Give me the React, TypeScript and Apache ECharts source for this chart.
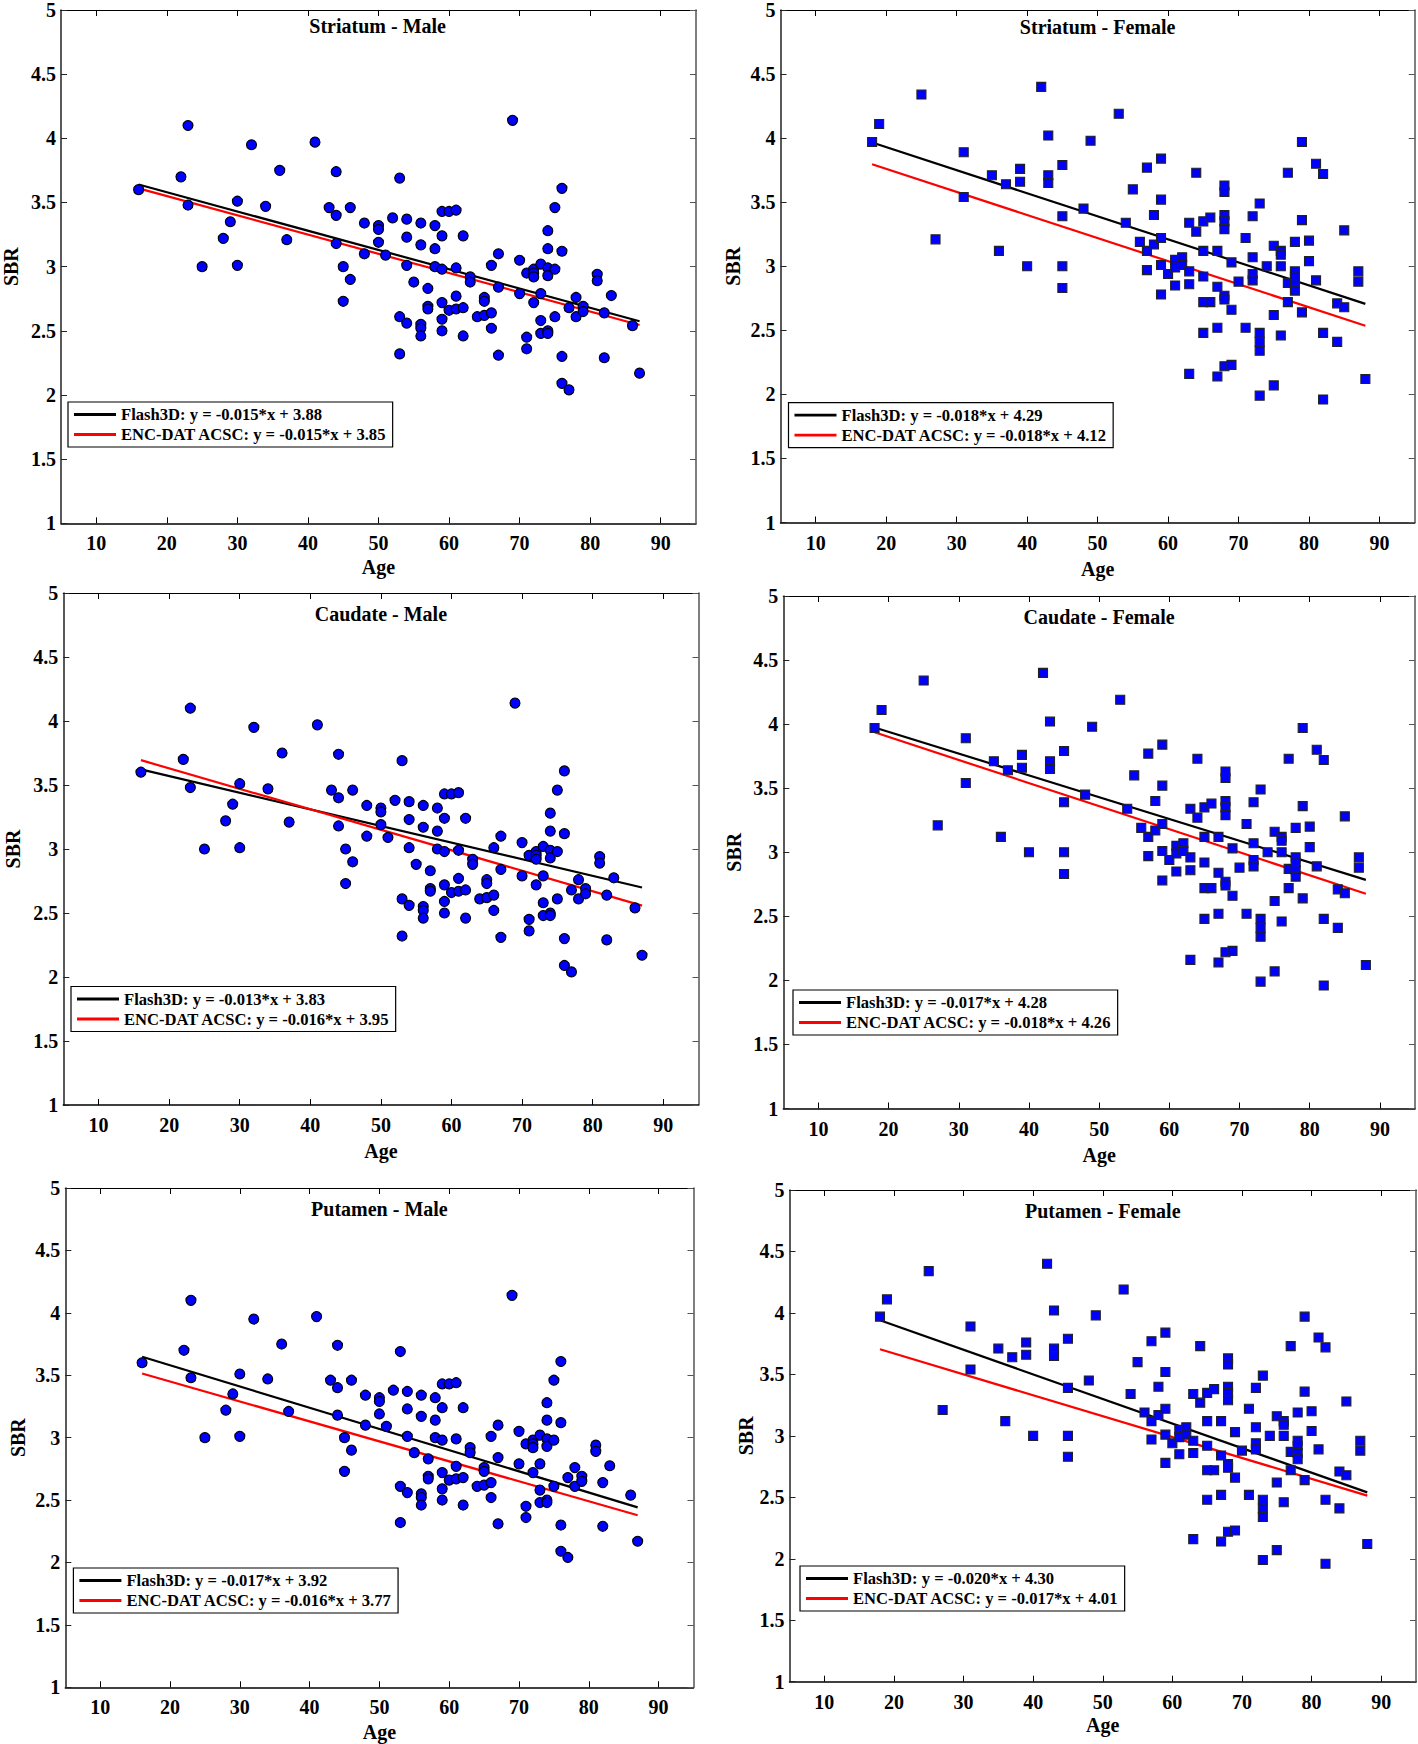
import React, { useEffect, useRef } from "react";
import * as echarts from "echarts";

const regions = ["Striatum", "Caudate", "Putamen"];
const sexes = ["Male", "Female"];
const xTicks = [10, 20, 30, 40, 50, 60, 70, 80, 90];
const yTicks = [1, 1.5, 2, 2.5, 3, 3.5, 4, 4.5, 5];

// [age, SBR] — same subject set is shown in every male panel
const maleData: number[][] = [
  [16, 3.6], [23, 4.1], [22, 3.7], [23, 3.48], [25, 3.0], [32, 3.95], [30, 3.51], [29, 3.35], [28, 3.22], [30, 3.01],
  [36, 3.75], [34, 3.47], [37, 3.21], [41, 3.97], [44, 3.74], [43, 3.46], [44, 3.4], [46, 3.46], [44, 3.18], [45, 3.0],
  [46, 2.9], [45, 2.73], [48, 3.34], [50, 3.32], [50, 3.29], [50, 3.19], [48, 3.1], [51, 3.09], [52, 3.38],
  [53, 3.69], [54, 3.37], [54, 3.23], [53, 2.61], [54, 2.56], [53, 2.32], [54, 3.01], [55, 2.88], [56, 3.34], [56, 3.17],
  [56, 2.55], [56, 2.52], [56, 2.46], [57, 2.83], [57, 2.69], [57, 2.67], [58, 3.32], [58, 3.14], [58, 3.0], [59, 3.43],
  [59, 3.24], [59, 2.98], [59, 2.72], [59, 2.59], [59, 2.5], [60, 3.43], [60, 2.66], [61, 3.44], [61, 2.99], [61, 2.77],
  [61, 2.67], [62, 3.24], [62, 2.68], [62, 2.46], [63, 2.92], [63, 2.88], [64, 2.61], [65, 2.76], [65, 2.73], [65, 2.62],
  [66, 3.01], [66, 2.64], [66, 2.52], [67, 3.1], [67, 2.84], [67, 2.31], [69, 4.14], [70, 3.05], [70, 2.79], [71, 2.95],
  [71, 2.45], [71, 2.36], [72, 2.98], [72, 2.95], [72, 2.92], [72, 2.72], [73, 3.02], [73, 2.79], [73, 2.58], [73, 2.48],
  [74, 3.28], [74, 3.14], [74, 2.99], [74, 2.93], [74, 2.5], [74, 2.48], [75, 3.46], [75, 2.98], [75, 2.61], [76, 3.61],
  [76, 3.12], [76, 2.3], [76, 2.09], [77, 2.04], [77, 2.68], [78, 2.76], [78, 2.61], [79, 2.69], [79, 2.65], [81, 2.94],
  [81, 2.89], [82, 2.64], [82, 2.29], [83, 2.775], [86, 2.54], [87, 2.17],
];

// [age, SBR] — same subject set is shown in every female panel
const femaleData: number[][] = [
  [18, 3.97], [19, 4.11], [25, 4.34], [31, 3.89], [31, 3.54], [27, 3.21], [35, 3.71], [37, 3.64], [36, 3.12], [39, 3.76],
  [39, 3.66], [40, 3.0], [42, 4.4], [43, 4.02], [43, 3.71], [43, 3.65], [45, 3.79], [45, 3.39], [45, 3.0], [45, 2.83],
  [48, 3.45], [49, 3.98], [53, 4.19], [54, 3.34], [55, 3.6], [56, 3.19], [57, 3.77], [57, 3.12], [57, 2.97], [58, 3.4],
  [58, 3.17], [59, 3.84], [59, 3.52], [59, 3.22], [59, 3.01], [59, 2.78], [60, 2.94], [61, 3.05], [61, 2.99], [61, 2.85],
  [62, 3.07], [62, 3.01], [63, 3.34], [63, 2.96], [63, 2.86], [63, 2.16], [64, 3.73], [64, 3.27], [65, 3.35], [65, 3.12],
  [65, 2.92], [65, 2.72], [65, 2.48], [66, 3.38], [66, 2.72], [67, 3.12], [67, 2.84], [67, 2.52], [67, 2.14], [68, 3.63],
  [68, 3.58], [68, 3.4], [68, 3.35], [68, 3.29], [68, 2.77], [68, 2.74], [68, 2.22], [69, 3.03], [69, 2.66], [69, 2.23],
  [70, 2.88], [71, 3.22], [71, 2.52], [72, 3.39], [72, 3.07], [72, 2.94], [72, 2.89], [73, 3.49], [73, 2.48], [73, 2.41],
  [73, 2.34], [73, 1.99], [74, 3.0], [75, 3.16], [75, 2.62], [75, 2.07], [76, 3.12], [76, 3.09], [76, 3.0], [76, 2.46],
  [77, 3.73], [77, 2.87], [77, 2.72], [78, 3.19], [78, 2.96], [78, 2.92], [78, 2.86], [78, 2.81], [79, 3.97], [79, 3.36],
  [79, 2.64], [80, 3.2], [80, 3.04], [81, 3.8], [81, 2.89], [82, 3.72], [82, 2.48], [82, 1.96], [84, 2.71], [84, 2.41],
  [85, 3.28], [85, 2.68], [87, 2.96], [87, 2.88], [88, 2.12],
];

// regression coefficients per region (Striatum, Caudate, Putamen)
const flashSlopeMale = [-0.015, -0.013, -0.017];
const flashInterceptMale = [3.88, 3.83, 3.92];
const encSlopeMale = [-0.015, -0.016, -0.016];
const encInterceptMale = [3.85, 3.95, 3.77];
const flashSlopeFemale = [-0.018, -0.017, -0.02];
const flashInterceptFemale = [4.29, 4.28, 4.3];
const encSlopeFemale = [-0.018, -0.018, -0.017];
const encInterceptFemale = [4.12, 4.26, 4.01];

// layout (px): left, top, width, height for each panel (row-major)
const panelBoxes = [
  [59.3, 5.3, 636.7, 518],
  [780.5, 6, 634.2, 516.5],
  [63.3, 593, 635.2, 512],
  [783.3, 596, 631.7, 512.5],
  [65.3, 1188, 628.2, 499.3],
  [789.5, 1190, 626.5, 491.7],
];
const legendPos = [
  [68, 402],
  [788.5, 402.6],
  [71, 986.5],
  [793, 990],
  [73.4, 1568],
  [800, 1566],
];
const sbrGap = [40, 38, 40, 39, 37, 34];
const ageGap = [34, 36, 36, 36, 34.5, 33.5];

const FONT = "'Liberation Serif', 'Times New Roman', serif";

function buildOption() {
  const grid: any[] = [];
  const xAxis: any[] = [];
  const yAxis: any[] = [];
  const series: any[] = [];
  const legend: any[] = [];
  const graphic: any[] = [];

  const labelStyle = { fontFamily: FONT, fontWeight: "bold", fontSize: 20, color: "#000" };

  regions.forEach((region, r) => {
    sexes.forEach((sex, s) => {
      const i = r * 2 + s;
      const [L, T, W, H] = panelBoxes[i];
      const male = s === 0;
      const data = male ? maleData : femaleData;
      const fs = male ? flashSlopeMale[r] : flashSlopeFemale[r];
      const fb = male ? flashInterceptMale[r] : flashInterceptFemale[r];
      const es = male ? encSlopeMale[r] : encSlopeFemale[r];
      const eb = male ? encInterceptMale[r] : encInterceptFemale[r];
      const ages = data.map((d) => d[0]);
      const a0 = Math.min(...ages);
      const a1 = Math.max(...ages);

      grid.push({ left: L, top: T, width: W, height: H });

      xAxis.push({
        type: "value", gridIndex: i, min: 5, max: 95, position: "bottom",
        name: "Age", nameLocation: "middle", nameGap: ageGap[i], nameTextStyle: labelStyle,
        axisLine: { show: true, onZero: false, lineStyle: { color: "#000", width: 1.5 } },
        axisTick: { show: true, inside: true, length: 6, customValues: xTicks, lineStyle: { color: "#000", width: 1 } },
        axisLabel: { customValues: xTicks, margin: 10, ...labelStyle },
        splitLine: { show: false },
      });
      xAxis.push({
        type: "value", gridIndex: i, min: 5, max: 95, position: "top",
        axisLine: { show: true, onZero: false, lineStyle: { color: "#000", width: 1.2 } },
        axisTick: { show: true, inside: true, length: 6, customValues: xTicks, lineStyle: { color: "#000", width: 1 } },
        axisLabel: { show: false },
        splitLine: { show: false },
      });
      yAxis.push({
        type: "value", gridIndex: i, min: 1, max: 5, interval: 0.5, position: "left",
        name: "SBR", nameLocation: "middle", nameGap: sbrGap[i], nameTextStyle: labelStyle,
        axisLine: { show: true, onZero: false, lineStyle: { color: "#222", width: 1.5 } },
        axisTick: { show: true, inside: true, length: 6, customValues: yTicks, lineStyle: { color: "#222", width: 1 } },
        axisLabel: { customValues: yTicks, margin: 5, ...labelStyle },
        splitLine: { show: false },
      });
      yAxis.push({
        type: "value", gridIndex: i, min: 1, max: 5, interval: 0.5, position: "right",
        axisLine: { show: true, onZero: false, lineStyle: { color: "#555", width: 1.5 } },
        axisTick: { show: true, inside: true, length: 6, customValues: yTicks, lineStyle: { color: "#555", width: 1 } },
        axisLabel: { show: false },
        splitLine: { show: false },
      });

      const flashName = `Flash3D: y = ${fs.toFixed(3)}*x + ${fb.toFixed(2)}`;
      const encName = `ENC-DAT ACSC: y = ${es.toFixed(3)}*x + ${eb.toFixed(2)}`;

      series.push({
        type: "line", name: flashName, xAxisIndex: i * 2, yAxisIndex: i * 2,
        data: [[a0, fs * a0 + fb], [a1, fs * a1 + fb]],
        symbol: "none", lineStyle: { color: "#000", width: 2.2 }, itemStyle: { color: "#000" }, z: 2,
      });
      series.push({
        type: "line", name: encName, xAxisIndex: i * 2, yAxisIndex: i * 2,
        data: [[a0, es * a0 + eb], [a1, es * a1 + eb]],
        symbol: "none", lineStyle: { color: "#ff0000", width: 2.2 }, itemStyle: { color: "#ff0000" }, z: 2,
      });
      series.push({
        type: "scatter", name: `${region} - ${sex} data`, xAxisIndex: i * 2, yAxisIndex: i * 2,
        data,
        symbol: male ? "circle" : "rect",
        symbolSize: male ? 10 : 9,
        itemStyle: { color: "#0000ff", borderColor: male ? "#000" : "#222", borderWidth: 1.1, opacity: 1 },
        z: 3,
      });

      legend.push({
        left: legendPos[i][0], top: legendPos[i][1], orient: "vertical",
        data: [flashName, encName], icon: "rect", itemWidth: 42, itemHeight: 2.8, itemGap: 3,
        padding: [4, 6, 4, 6], borderColor: "#000", borderWidth: 1.2, backgroundColor: "#fff",
        selectedMode: false,
        textStyle: { fontFamily: FONT, fontWeight: "bold", fontSize: 16.6, color: "#000", lineHeight: 17 },
      });

      graphic.push({
        type: "text", x: L + W / 2, y: T + 21, z: 10,
        style: { text: `${region} - ${sex}`, fill: "#000", font: `bold 20px ${FONT}`, textAlign: "center", textVerticalAlign: "middle", verticalAlign: "middle" },
      });
    });
  });

  return { animation: false, backgroundColor: "#fff", grid, xAxis, yAxis, series, legend, graphic };
}

export default function App() {
  const ref = useRef<HTMLDivElement>(null);
  useEffect(() => {
    document.body.style.margin = "0";
    if (!ref.current) return;
    const chart = echarts.init(ref.current, null, { renderer: "svg" });
    chart.setOption(buildOption());
    return () => chart.dispose();
  }, []);
  return <div ref={ref} style={{ width: 1418, height: 1744 }} />;
}
